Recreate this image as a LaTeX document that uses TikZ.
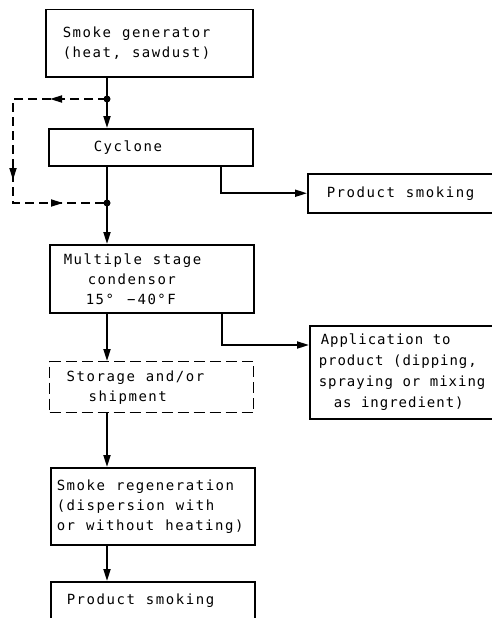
\documentclass[tikz,border=0pt]{standalone}
\usepackage{fontspec}
\newfontfamily\lettering{DejaVu Sans Mono}[LetterSpace=11]
\newfontfamily\letteringb{DejaVu Sans Mono}[LetterSpace=7]
\newcommand\letterfont{\lettering\fontsize{14}{20}\selectfont}
\newcommand\letterfontb{\letteringb\fontsize{14}{21}\selectfont}
\newcommand\gap{\hspace{11pt}}
\newcommand\gapb{\hspace{9.5pt}}
\usetikzlibrary{arrows.meta,decorations.markings}
\tikzset{
  box/.style={draw, line width=1.5pt, align=left, anchor=north west, inner ysep=0pt,
    font=\letterfont},
  dbox/.style={box, line width=1.4pt, dash pattern=on 11pt off 5pt},
  tip/.tip={Triangle[length=12pt,width=7pt]},
  conn/.style={line width=1.9pt, -tip},
  dashloop/.style={line width=1.8pt, dash pattern=on 9pt off 5pt},
  jdot/.style={circle, fill, inner sep=0pt, minimum size=7pt}
}
\begin{document}
\begin{tikzpicture}[x=1pt,y=-1pt]
\clip (0,0) rectangle (492,618);

\node[box, minimum width=207pt, minimum height=67pt, inner xsep=17pt, text width=173pt] (gen) at (45,9)
  {Smoke\gap generator\\(heat,\gap sawdust)};
\node[box, minimum width=204pt, minimum height=37pt, inner xsep=45pt, text width=114pt] (cyc) at (48,128)
  {Cyclone};
\node[box, minimum width=200pt, minimum height=39pt, inner xsep=19pt, text width=162pt] (ps1) at (307,173)
  {Product\gap smoking};
\node[box, minimum width=204pt, minimum height=68pt, inner xsep=14pt, text width=176pt] (mult) at (49,244)
  {Multiple\gap stage\\\hspace*{24pt}condensor\\\hspace*{22pt}15°\hspace{13pt}−\hspace{2pt}40°F};
\node[box, minimum width=210pt, minimum height=93pt, inner xsep=9pt, text width=192pt,
  font=\letterfontb] (app) at (309,325)
  {\hspace*{2pt}Application\gapb to\\product\gapb (dipping,\\spraying\gapb or\gapb mixing\\\hspace*{15pt}as\gapb ingredient)};
\node[dbox, minimum width=204pt, minimum height=51pt, inner xsep=17pt, text width=170pt] (stor) at (49,361)
  {Storage\gap and/or\\\hspace*{22pt}shipment};
\node[box, minimum width=204pt, minimum height=77pt, inner xsep=6pt, text width=192pt] (regen) at (50,467)
  {Smoke\gap regeneration\\(dispersion\gap with\\or\gap without\gap heating)};
\node[box, minimum width=204pt, inner xsep=16pt, text width=172pt, inner ysep=12pt,
  text height=11pt, text depth=40pt] (ps2) at (50,581)
  {Product\gap smoking};

\coordinate (j1) at (107,99);
\coordinate (j2) at (107,203);
\coordinate (c1) at (13,99);
\coordinate (c2) at (13,203);
\coordinate (b1) at (221,193);
\coordinate (b2) at (222,345);

% main line
\draw[conn] (gen.south -| j1) -- (cyc.north -| j1);
\draw[conn] (cyc.south -| j2) -- (mult.north -| j2);
\draw[conn] (mult.south -| j2) -- (stor.north -| j2);
\draw[conn] (stor.south -| j2) -- (regen.north -| j2);
\draw[conn] (regen.south -| j2) -- (ps2.north -| j2);

% dashed bypass
\draw[dashloop, postaction={decorate}, decoration={markings,
    mark=at position 57pt with {\arrow{tip}},
    mark=at position 175pt with {\arrow{tip}},
    mark=at position 248pt with {\arrow{tip}}}]
  (j1) -- (c1) -- (c2) -- (j2);
\node[jdot] (d1) at (j1) {};
\node[jdot] (d2) at (j2) {};

% branches
\draw[conn] (cyc.south -| b1) |- (ps1.west);
\draw[conn] (mult.south -| b2) |- (app.west |- b2);
\end{tikzpicture}
\end{document}
